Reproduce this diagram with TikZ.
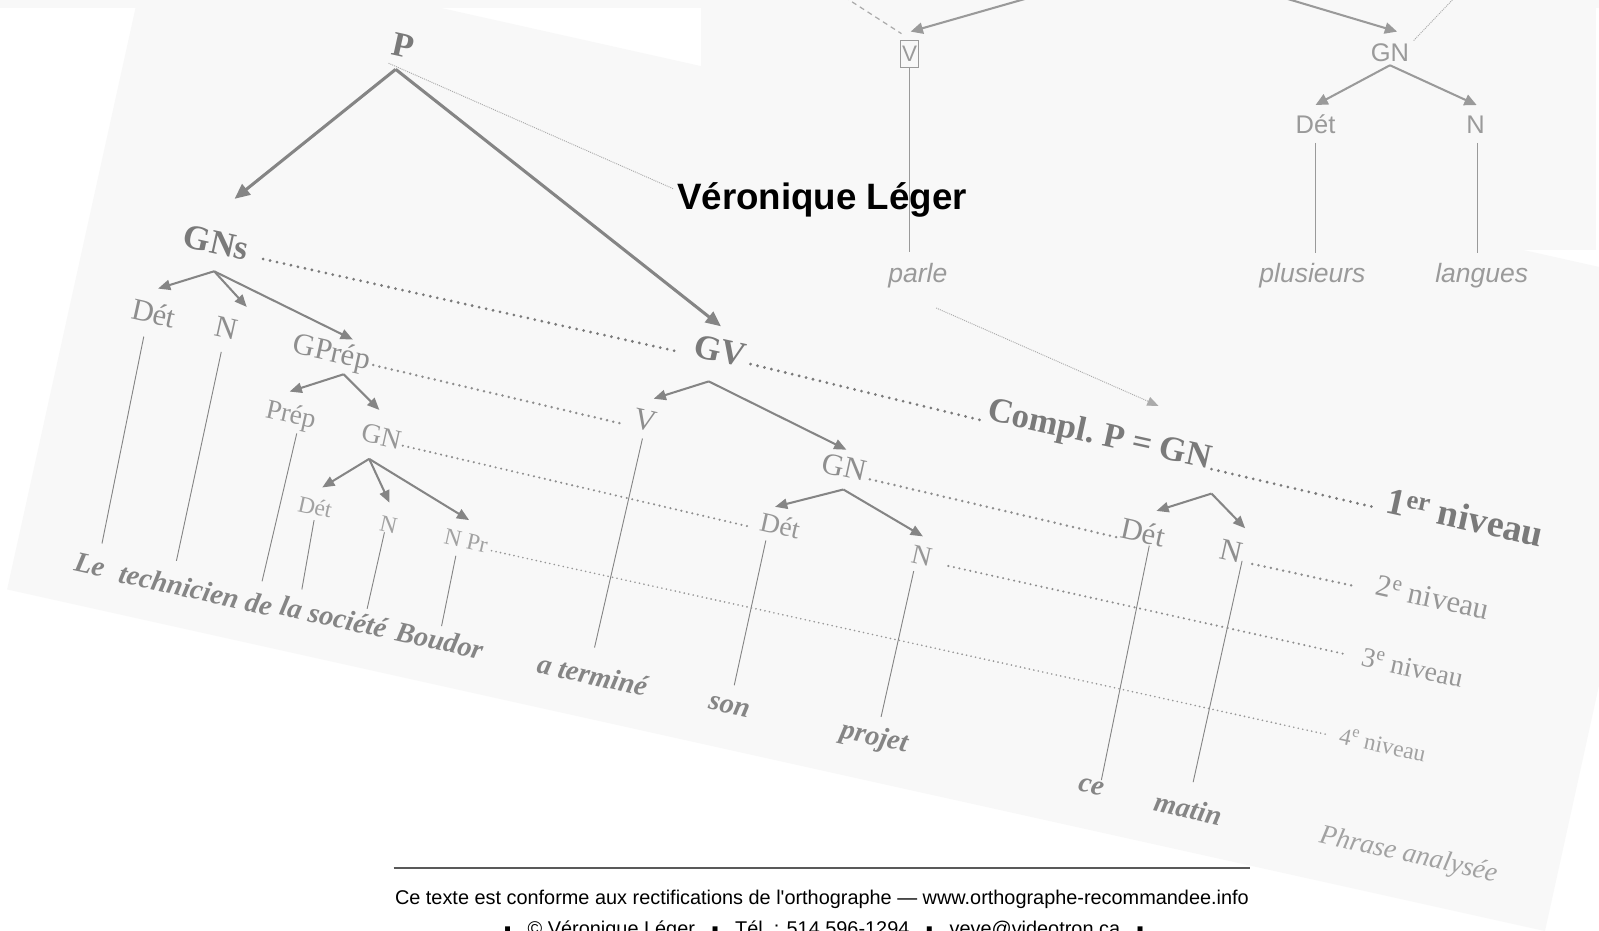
\documentclass[tikz,border=0pt]{standalone}
\usepackage{fontspec}
\setmainfont{Liberation Serif}
\newfontfamily\arsf{Liberation Sans}
\usetikzlibrary{arrows.meta}
\definecolor{bgc}{HTML}{F8F8F8}
\definecolor{cA}{HTML}{7A7A7A}
\definecolor{cB}{HTML}{8E8E8E}
\definecolor{cC}{HTML}{979797}
\definecolor{cD}{HTML}{A2A2A2}
\definecolor{cW}{HTML}{858585}
\definecolor{cL}{HTML}{858585}
\definecolor{trc}{HTML}{9A9A9A}
\definecolor{fine}{HTML}{ABABAB}
\tikzset{
  pg/.style={inner sep=0pt, rotate=-12.5},
  Lone/.style={pg, text=cA, font=\fontsize{34}{34}\selectfont\bfseries},
  Ltwo/.style={pg, text=cB, font=\fontsize{30}{30}\selectfont},
  Lthree/.style={pg, text=cC, font=\fontsize{27}{27}\selectfont},
  Lfour/.style={pg, text=cD, font=\fontsize{23}{23}\selectfont},
  wd/.style={pg, text=cW, font=\fontsize{28}{28}\selectfont\bfseries\itshape},
  ph/.style={pg, text=cD, font=\fontsize{27}{27}\selectfont\itshape},
  tr/.style={inner sep=0pt, text=trc, font=\arsf\fontsize{25}{25}\selectfont},
  tri/.style={inner sep=0pt, text=trc, font=\arsf\fontsize{26}{26}\selectfont\itshape},
  trbox/.style={draw=trc, line width=1.3pt, inner sep=0pt, minimum width=18pt, minimum height=27pt, text=trc, font=\arsf\fontsize{22}{22}\selectfont},
  vl/.style={draw=cL, line width=0.9pt},
  trl/.style={draw=trc, line width=1.6pt},
  arr/.style={draw=cL, line width=2pt, -{Triangle[length=12pt,width=10pt]}},
  bigarr/.style={draw=cL, line width=3pt, -{Triangle[length=15pt,width=13pt]}},
  tarr/.style={draw=trc, line width=2pt, -{Triangle[length=12pt,width=11pt]}},
  dotone/.style={draw=cA, line width=3pt, dash pattern=on 0pt off 7pt, line cap=round},
  dottwo/.style={draw=cB, line width=2.7pt, dash pattern=on 0pt off 6.2pt, line cap=round},
  dotthree/.style={draw=cB, line width=2.3pt, dash pattern=on 0pt off 5.5pt, line cap=round},
  dotfour/.style={draw=cC, line width=1.8pt, dash pattern=on 0pt off 4.5pt, line cap=round},
  finel/.style={draw=fine, line width=0.9pt, dash pattern=on 1pt off 1pt},
}
\begin{document}
\begin{tikzpicture}[x=1pt,y=-1pt]
\useasboundingbox (0,0) rectangle (1568,912);
\clip (0,0) rectangle (1568,912);
% backgrounds
\fill[white] (-2,-2) rectangle (1570,914);
\fill[bgc] (147,-56) -- (7,578) -- (1515,913) -- (1654,281) -- cycle;
\fill[bgc] (687,-2) rectangle (1565,245);
\fill[bgc] (-2,-2) rectangle (1570,8);

% ---------- top-right tree ----------
\node[trbox] (vbox) at (892,53) {V};
\node[tr] (gnR) at (1363,52) {GN};
\node[tr] (detR) at (1290,122) {Dét};
\node[tr] (nR) at (1447,122) {N};
\node[tri] (parle) at (900,270) {parle};
\node[tri] (plus) at (1287,270) {plusieurs};
\node[tri] (lang) at (1453,270) {langues};
\coordinate (offA) at (1012,-3);
\coordinate (offB) at (1256,-3);
\coordinate (offC) at (828,-3);
\coordinate (offD) at (1427,-3);
\coordinate (vtip) at (893,31);
\coordinate (gntip) at (1370,31);
\coordinate (gnRj) at (1363,64);
\coordinate (detRt) at (1290,103);
\coordinate (nRt) at (1448,103);
\coordinate (vbot) at (892,247);
\coordinate (detRb) at (1290,140);
\coordinate (detRe) at (1290,248);
\coordinate (nRb) at (1449,140);
\coordinate (nRe) at (1449,248);
\coordinate (dashE) at (884,33);
\coordinate (dotE) at (1386,40);
\draw[tarr] (offA) -- (vtip);
\draw[tarr] (offB) -- (gntip);
\draw[draw=fine, line width=1.2pt, dash pattern=on 5pt off 4pt] (offC) -- (dashE);
\draw[finel] (offD) -- (dotE);
\draw[tarr] (gnRj) -- (detRt);
\draw[tarr] (gnRj) -- (nRt);
\draw[trl] (vbox.south) -- (vbot);
\draw[trl] (detRb) -- (detRe);
\draw[trl] (nRb) -- (nRe);
\coordinate (parleS) at (918,302);
\coordinate (parleE) at (1136,398);
\draw[finel, -{Triangle[length=11pt,width=9pt]}] (parleS) -- (parleE);

% ---------- rotated page tree ----------
\node[Lone] (P) at (395,45) {P};
\node[Lone] (GNs) at (212,238) {GNs};
\node[Lone] (GV) at (706,344) {GV};
\node[Lone] (Compl) at (1078,428) {Compl.\ P = GN};
\node[Lone, font=\fontsize{37}{37}\selectfont\bfseries] (nivA) at (1437,507) {1\textsuperscript{er} niveau};

\node[Ltwo] (detA) at (151,307) {Dét};
\node[Ltwo] (nA) at (222,322) {N};
\node[Ltwo] (gprep) at (325,347) {GPrép};
\node[Ltwo] (vA) at (633,412) {V};
\node[Ltwo] (gnB) at (828,458) {GN};
\node[Ltwo] (detC) at (1121,522) {Dét};
\node[Ltwo] (nC) at (1208,540) {N};
\node[Ltwo, text=cC] (nivB) at (1405,586) {2\textsuperscript{e} niveau};

\node[Lthree] (prep) at (285,408) {Prép};
\node[Lthree] (gnA) at (374,428) {GN};
\node[Lthree] (detB) at (765,515) {Dét};
\node[Lthree] (nB) at (904,545) {N};
\node[Lthree] (nivC) at (1385,655) {3\textsuperscript{e} niveau};

\node[Lfour] (detD) at (309,497) {Dét};
\node[Lfour] (nD) at (381,515) {N};
\node[Lfour] (npr) at (457,530) {N Pr};
\node[Lfour] (nivD) at (1356,730) {4\textsuperscript{e} niveau};

\node[wd] (le) at (88,554) {Le};
\node[wd] (tech) at (192,578) {technicien de};
\node[wd] (lasoc) at (327,605) {la société};
\node[wd] (boudor) at (431,628) {Boudor};
\node[wd] (aterm) at (581,662) {a terminé};
\node[wd] (son) at (715,693) {son};
\node[wd] (projet) at (857,724) {projet};
\node[wd] (ce) at (1070,772) {ce};
\node[wd] (matin) at (1165,793) {matin};
\node[ph] (phrase) at (1381,839) {Phrase analysée};

% junctions and arrow tips
\coordinate (Pj) at (388,68);
\coordinate (Pf) at (381,62);
\coordinate (PfE) at (660,185);
\coordinate (GNst) at (230,195);
\coordinate (GVt) at (707,320);
\coordinate (GNsj) at (210,266);
\coordinate (detAt) at (155,283);
\coordinate (nAt) at (242,301);
\coordinate (gprept) at (346,333);
\coordinate (gprepj) at (337,367);
\coordinate (prept) at (284,384);
\coordinate (gnAt) at (372,402);
\coordinate (gnAj) at (362,450);
\coordinate (detDt) at (316,478);
\coordinate (nDt) at (382,493);
\coordinate (nprt) at (460,510);
\coordinate (GVj) at (695,374);
\coordinate (vAt) at (641,391);
\coordinate (gnBt) at (830,441);
\coordinate (gnBj) at (827,480);
\coordinate (detBt) at (760,497);
\coordinate (nBt) at (905,526);
\coordinate (Complj) at (1188,484);
\coordinate (detCt) at (1134,501);
\coordinate (nCt) at (1221,518);

\draw[finel] (Pf) -- (PfE);
\draw[bigarr] (Pj) -- (GNst);
\draw[bigarr] (Pj) -- (GVt);
\draw[arr] (GNsj) -- (detAt);
\draw[arr] (GNsj) -- (nAt);
\draw[arr] (GNsj) -- (gprept);
\draw[arr] (gprepj) -- (prept);
\draw[arr] (gprepj) -- (gnAt);
\draw[arr] (gnAj) -- (detDt);
\draw[arr] (gnAj) -- (nDt);
\draw[arr] (gnAj) -- (nprt);
\draw[arr] (GVj) -- (vAt);
\draw[arr] (GVj) -- (gnBt);
\draw[arr] (gnBj) -- (detBt);
\draw[arr] (gnBj) -- (nBt);
\draw[arr] (Complj) -- (detCt);
\draw[arr] (Complj) -- (nCt);

% vertical lines to words
\coordinate (a1) at (141,330); \coordinate (a2) at (100,533);
\coordinate (b1) at (217,345); \coordinate (b2) at (173,550);
\coordinate (c1) at (291,425); \coordinate (c2) at (257,570);
\coordinate (d1) at (308,510); \coordinate (d2) at (296,578);
\coordinate (e1) at (377,522); \coordinate (e2) at (360,597);
\coordinate (f1) at (447,545); \coordinate (f2) at (433,614);
\coordinate (g1) at (630,430); \coordinate (g2) at (583,635);
\coordinate (h1) at (751,530); \coordinate (h2) at (720,672);
\coordinate (i1) at (896,560); \coordinate (i2) at (864,703);
\coordinate (j1) at (1127,535); \coordinate (j2) at (1080,765);
\coordinate (k1) at (1218,550); \coordinate (k2) at (1170,767);
\draw[vl] (a1) -- (a2);
\draw[vl] (b1) -- (b2);
\draw[vl] (c1) -- (c2);
\draw[vl] (d1) -- (d2);
\draw[vl] (e1) -- (e2);
\draw[vl] (f1) -- (f2);
\draw[vl] (g1) -- (g2);
\draw[vl] (h1) -- (h2);
\draw[vl] (i1) -- (i2);
\draw[vl] (j1) -- (j2);
\draw[vl] (k1) -- (k2);

% level dotted lines
\coordinate (l1a) at (258,254); \coordinate (l1b) at (666,345);
\coordinate (l1c) at (736,357); \coordinate (l1d) at (966,413);
\coordinate (l1e) at (1188,460); \coordinate (l1f) at (1346,497);
\coordinate (l2a) at (366,358); \coordinate (l2b) at (612,416);
\coordinate (l2c) at (853,470); \coordinate (l2d) at (1100,528);
\coordinate (l2e) at (1228,553); \coordinate (l2f) at (1325,574);
\coordinate (l3a) at (395,437); \coordinate (l3b) at (733,516);
\coordinate (l3c) at (930,555); \coordinate (l3d) at (1317,641);
\coordinate (l4a) at (482,540); \coordinate (l4b) at (1300,720);
\draw[dotone] (l1a) -- (l1b);
\draw[dotone] (l1c) -- (l1d);
\draw[dotone] (l1e) -- (l1f);
\draw[dottwo] (l2a) -- (l2b);
\draw[dottwo] (l2c) -- (l2d);
\draw[dottwo] (l2e) -- (l2f);
\draw[dotthree] (l3a) -- (l3b);
\draw[dotthree] (l3c) -- (l3d);
\draw[dotfour] (l4a) -- (l4b);

% ---------- title and footer ----------
\node[inner sep=0pt, font=\arsf\fontsize{36}{36}\selectfont\bfseries] (title) at (806,196) {Véronique Léger};
\coordinate (rulea) at (386,851);
\coordinate (ruleb) at (1226,851);
\draw[draw=black!65, line width=1.4pt] (rulea) -- (ruleb);
\node[inner sep=0pt, anchor=base, font=\arsf\fontsize{19.5}{20}\selectfont] (foot) at (806,887) {Ce texte est conforme aux rectifications de l'orthographe — www.orthographe-recommandee.info};
\node[inner sep=0pt, anchor=base, font=\arsf\fontsize{19.5}{20}\selectfont] (foot2) at (808,917) {▪\ \ \ © Véronique Léger\ \ \ ▪\ \ \ Tél.\ : 514 596-1294\ \ \ ▪\ \ \ veve@videotron.ca\ \ \ ▪};
\end{tikzpicture}
\end{document}
